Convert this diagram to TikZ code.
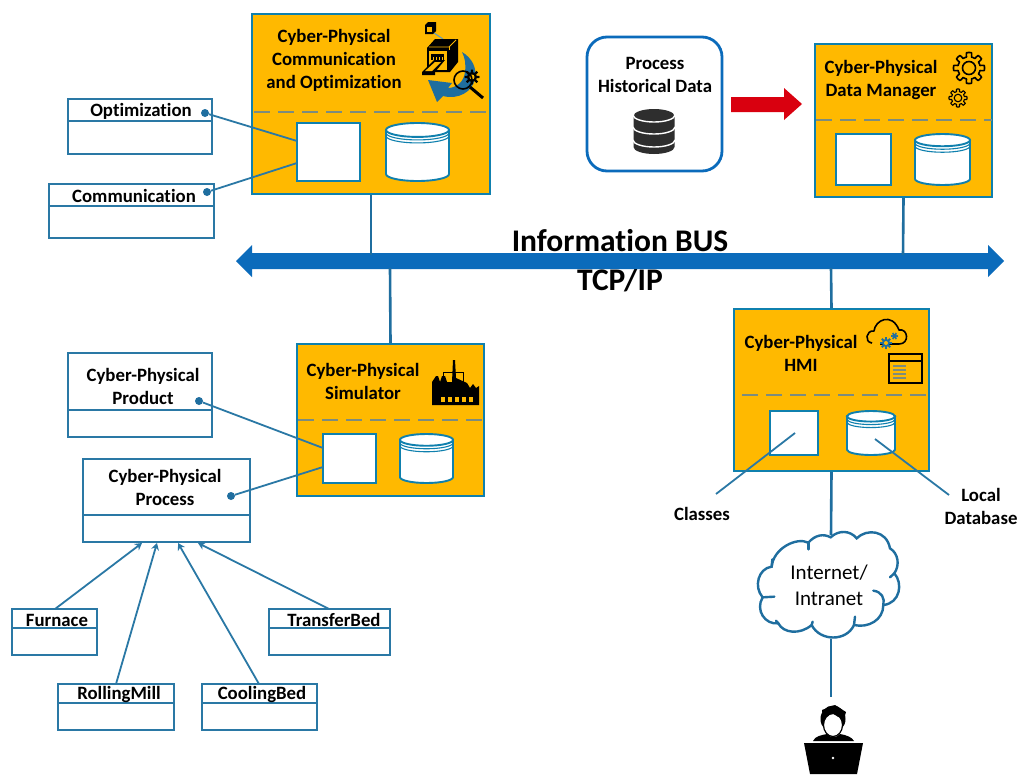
\documentclass[tikz,border=0pt]{standalone}
\usepackage{fontspec}
\setmainfont[Ligatures=NoCommon]{Carlito}
\usetikzlibrary{arrows.meta,calc}
\definecolor{cporange}{HTML}{FFB900}
\definecolor{cpedge}{HTML}{0F80AE}
\definecolor{umledge}{HTML}{2A78A5}
\definecolor{busblue}{HTML}{0B6BBB}
\definecolor{iconblue}{HTML}{1F6E9F}
\definecolor{dashc}{HTML}{7C8C7E}
\definecolor{arrowred}{HTML}{D9000F}
\tikzset{
  cpbox/.style={draw=cpedge,fill=cporange,line width=2pt,inner sep=0pt},
  inner box/.style={draw=cpedge,fill=white,line width=1.9pt,inner sep=0pt},
  umlbox/.style={draw=umledge,fill=white,line width=1.7pt,inner sep=0pt},
  sepline/.style={draw=dashc,line width=1.7pt,dash pattern=on 16pt off 8pt},
  umlline/.style={draw=umledge,line width=1.8pt},
  busline/.style={draw=iconblue,line width=2.6pt},
  txt/.style={font=\bfseries\fontsize{18.8}{23}\selectfont,align=center,inner sep=0pt,text=black},
  dotmark/.style={circle,fill=iconblue,draw=none,minimum size=8pt,inner sep=0pt},
  inherit/.style={umlline,-{Stealth[length=7pt,width=8pt]}},
}
\newcommand{\cyl}[5]{% name, cx, cy, w, h
  \node[minimum width=#4,minimum height=#5,inner sep=0pt] (#1) at (#2,#3) {};
  \begin{scope}[shift={(#2,#3)}]
    \pgfmathsetmacro{\hw}{#4/2}\pgfmathsetmacro{\hh}{#5/2}\pgfmathsetmacro{\ry}{#5*0.12}
    \draw[inner box] (-\hw,-\hh+\ry) -- (\hw,-\hh+\ry) -- (\hw,\hh-\ry) arc[start angle=0,end angle=180,x radius=\hw,y radius=\ry] -- cycle;
    \draw[inner box] (0,-\hh+\ry) ellipse[x radius=\hw,y radius=\ry];
    \draw[cpedge,line width=1.1pt] (-\hw,-\hh+\ry+3) arc[start angle=180,end angle=0,x radius=\hw,y radius=\ry];
    \draw[cpedge,line width=1.1pt] (-\hw,-\hh+\ry+6) arc[start angle=180,end angle=0,x radius=\hw,y radius=\ry];
  \end{scope}}
\newcommand{\geartwo}[6]{% cx cy r teeth color lw
  \draw[#5,line width=#6,line join=round] plot[variable=\t,samples=193,domain=0:360] ({#1+(#3*(0.86+0.14*sign(cos(#4*\t))))*cos(\t)},{#2+(#3*(0.86+0.14*sign(cos(#4*\t))))*sin(\t)}) -- cycle;
  \draw[#5,line width=#6] (#1,#2) circle[radius=#3*0.42];}
\newcommand{\gearfill}[5]{% cx cy r teeth color
  \fill[#5] plot[variable=\t,samples=129,domain=0:360] ({#1+(#3*(0.82+0.18*sign(cos(#4*\t))))*cos(\t)},{#2+(#3*(0.82+0.18*sign(cos(#4*\t))))*sin(\t)}) -- cycle;}
\begin{document}
\begin{tikzpicture}[x=1pt,y=-1pt]
\useasboundingbox (0,0) rectangle (1019,774);
\fill[white] (0,0) rectangle (1019,774);

%% bus
\node[txt,font=\bfseries\fontsize{31.5}{39}\selectfont] (bus) at (620,261) {Information BUS\\TCP/IP};
\fill[busblue] (236,261) -- (252,245) -- (252,253) -- (988,253) -- (988,245) -- (1004,261) -- (988,277) -- (988,269) -- (252,269) -- (252,277) -- cycle;

%% cyber-physical boxes
\node[cpbox,minimum width=238,minimum height=180] (comm) at (371,104) {};
\node[cpbox,minimum width=177,minimum height=153] (dm) at (903.5,120.5) {};
\node[cpbox,minimum width=187,minimum height=152] (sim) at (390.5,420) {};
\node[cpbox,minimum width=195,minimum height=162] (hmi) at (831.5,390) {};

\draw[sepline] (254,112) -- (490,112);
\draw[sepline] (816,120) -- (992,120);
\draw[sepline] (298,420) -- (484,420);
\draw[sepline] (742,395) -- (929,395);

%% bus links
\coordinate (b1) at (371,255);\coordinate (b2) at (903,255);\coordinate (b3) at (390,268);\coordinate (b4) at (831,268);
\draw[busline] (comm.south) -- (b1);
\draw[busline] (dm.south) -- (b2);
\draw[busline] (sim.north) -- (b3);
\draw[busline] (hmi.north) -- (b4);

%% inner contents
\node[inner box,minimum width=63,minimum height=58] (commcl) at (328.5,152) {};
\cyl{commdb}{417.5}{152}{63}{58}
\node[inner box,minimum width=55,minimum height=51] (dmcl) at (863.5,159.5) {};
\cyl{dmdb}{942.5}{159.5}{55}{51}
\node[inner box,minimum width=53,minimum height=49] (simcl) at (349.5,458.5) {};
\cyl{simdb}{426.5}{458.5}{53}{49}
\node[inner box,minimum width=48,minimum height=44] (hmicl) at (794,433) {};
\cyl{hmidb}{871}{433}{48}{44}

%% titles
\node[txt] (tcomm) at (334,60) {Cyber-Physical\\Communication\\and Optimization};
\node[txt] (tdm) at (881,79.5) {Cyber-Physical\\Data Manager};
\node[txt] (tsim) at (363,381.5) {Cyber-Physical\\Simulator};
\node[txt] (thmi) at (801,353.5) {Cyber-Physical\\HMI};

%% historical data
\node[draw=busblue,fill=white,line width=2.8pt,rounded corners=20pt,minimum width=135,minimum height=134,inner sep=0pt] (hist) at (654.5,104) {};
\node[txt] (thist) at (655,75) {Process\\Historical Data};
\fill[black!82] (633.5,116) -- (633.5,147) arc[start angle=180,end angle=0,x radius=20.5,y radius=7] -- (674.5,116) arc[start angle=0,end angle=180,x radius=20.5,y radius=-7] -- cycle;
\foreach \yy in {115,127,140}{
  \draw[white,line width=1.4pt] (633,\yy) arc[start angle=180,end angle=0,x radius=21,y radius=7];
}

\fill[arrowred] (731,97) -- (784,97) -- (784,88) -- (802,104) -- (784,120) -- (784,112) -- (731,112) -- cycle;

%% gears
\geartwo{969}{68}{15.5}{8}{black}{1.6pt}
\geartwo{958}{98}{9}{8}{black}{1.1pt}

%% factory
\fill[black] (432,405) -- (432,382) -- (436,376) -- (438,376) -- (440,382) -- (442,376) -- (445,376) -- (447,382) -- (452,382) -- (453,360) -- (455,360) -- (456,378) -- (467,383) -- (470,388) -- (473,384) -- (476,388) -- (479,386) -- (479,405) -- cycle;
\foreach \wx in {441,448,455,462,469}{\fill[cporange] (\wx,397) rectangle ++(4,5);}
\draw[black,line width=.7pt] (443,376) -- (443,372) -- (463,372) -- (463,384);

%% communication icon
\fill[black] (425,25) -- (428,22) -- (436,22) -- (436,31) -- (433,34) -- (425,34) -- cycle;
\fill[cporange] (427,27) rectangle (432,32);
\draw[iconblue!70,line width=1pt] (434,33) -- (443,39);
\fill[iconblue] (462,52) .. controls (472,58) and (477,68) .. (475,78) .. controls (473,92) and (458,100) .. (443,96) -- (437,102) -- (428,80) -- (452,83) -- (448,88) .. controls (456,88) and (464,82) .. (465,72) .. controls (466,64) and (465,58) .. (462,52) -- cycle;
\fill[black] (427,48) -- (435,39) -- (458,39) -- (458,62) -- (450,72) -- (427,72) -- cycle;
\draw[cporange,line width=.9pt] (429,47) -- (449,47) -- (456,40);
\draw[cporange,line width=.9pt] (449,47) -- (449,50);
\fill[cporange] (429,51) rectangle (447,70);
\fill[black] (431,54) rectangle (444,60);
\foreach \cx in {433,436,439,442}{\draw[cporange,line width=.6pt] (\cx,57) -- (\cx,60);}
\fill[black] (422,72) -- (434,60) -- (445,60) -- (435,72) -- (435,75) -- (422,75) -- cycle;
\fill[cporange] (425,71) -- (435,62) -- (441,62) -- (432,71) -- cycle;
\gearfill{472}{77}{7.5}{8}{black}
\fill[cporange] (472,77) circle[radius=2.5];
\draw[black,line width=1.6pt] (463,80) circle[radius=9];
\draw[black,line width=3pt] (470,87) -- (483,98);

%% HMI icon
\draw[black,line width=1.6pt,line join=round] (872,343) .. controls (864,342) and (866,330) .. (874,331) .. controls (875,320) and (892,312) .. (899,330) .. controls (908,328) and (910,344) .. (899,344) -- (880,344);
\gearfill{886}{343}{6}{8}{iconblue}
\fill[cporange] (886,343) circle[radius=2];
\gearfill{894.5}{336}{3.5}{6}{iconblue}
\draw[black,line width=2.3pt] (889,354) rectangle (922,383);
\draw[black,line width=1.8pt] (889,361) -- (922,361);
\foreach \yy in {366,370,374,378}{\draw[dashc,line width=1.2pt] (893,\yy) -- (906,\yy);}

%% UML classes
\node[umlbox,minimum width=144,minimum height=55] (opt) at (140,126.5) {};
\draw[umlline] (opt.west |- 0,121) -- (opt.east |- 0,121);
\node[txt,anchor=center] (topt) at (141,111) {Optimization};
\node[umlbox,minimum width=165,minimum height=54] (cmc) at (131.5,211) {};
\draw[umlline] (cmc.west |- 0,206) -- (cmc.east |- 0,206);
\node[txt] (tcmc) at (134,196) {Communication};
\node[umlbox,minimum width=144,minimum height=84] (prod) at (140,395) {};
\draw[umlline] (prod.west |- 0,410) -- (prod.east |- 0,410);
\node[txt] (tprod) at (143,386) {Cyber-Physical\\Product};
\node[umlbox,minimum width=167,minimum height=83] (proc) at (166.5,500.5) {};
\draw[umlline] (proc.west |- 0,515) -- (proc.east |- 0,515);
\node[txt] (tproc) at (165,487) {Cyber-Physical\\Process};
\node[umlbox,minimum width=85,minimum height=46] (furn) at (54.5,632) {};
\draw[umlline] (furn.west |- 0,628) -- (furn.east |- 0,628);
\node[txt] (tfurn) at (57,620) {Furnace};
\node[umlbox,minimum width=121,minimum height=46] (trans) at (329.5,632) {};
\draw[umlline] (trans.west |- 0,628) -- (trans.east |- 0,628);
\node[txt] (ttrans) at (334,620) {TransferBed};
\node[umlbox,minimum width=116,minimum height=46] (roll) at (116,707) {};
\draw[umlline] (roll.west |- 0,703) -- (roll.east |- 0,703);
\node[txt] (troll) at (119,694) {RollingMill};
\node[umlbox,minimum width=115,minimum height=46] (cool) at (259.5,707) {};
\draw[umlline] (cool.west |- 0,703) -- (cool.east |- 0,703);
\node[txt] (tcool) at (262,694) {CoolingBed};

%% class links
\node[dotmark] (d1) at (205,113) {};
\node[dotmark] (d2) at (207,192) {};
\node[dotmark] (d3) at (199,401) {};
\node[dotmark] (d4) at (231,496) {};
\coordinate (e1) at (297,141);\coordinate (e2) at (297,163);\coordinate (e3) at (323,448);\coordinate (e4) at (323,467);
\draw[umlline] (d1) -- (e1);
\draw[umlline] (d2) -- (e2);
\draw[umlline] (d3) -- (e3);
\draw[umlline] (d4) -- (e4);

%% inheritance
\coordinate (a1) at (142,543);\coordinate (a2) at (157,543);\coordinate (a3) at (178,543);\coordinate (a4) at (198,543);
\draw[inherit] (55,609) -- (a1);
\draw[inherit] (116,684) -- (a2);
\draw[inherit] (259,684) -- (a3);
\draw[inherit] (329,609) -- (a4);

%% HMI callouts
\node[txt] (tcl) at (702,514) {Classes};
\node[txt] (tld) at (981,506) {Local\\Database};
\coordinate (c1) at (795,433);\coordinate (c2) at (875,439);\coordinate (c3) at (716,494);\coordinate (c4) at (949,495);
\draw[umlline] (c1) -- (c3);
\draw[umlline] (c2) -- (c4);

%% cloud
\begin{scope}[shift={(740,520)},x=0.3333pt,y=-0.3333pt,busline,line width=2.4pt,line cap=round]
\draw[fill=white] (272,52) .. controls (295,30) and (330,30) .. (350,55)
  .. controls (380,25) and (440,30) .. (450,85)
  .. controls (475,100) and (480,135) .. (463,160)
  .. controls (490,190) and (480,250) .. (430,255)
  .. controls (430,300) and (385,325) .. (342,315)
  .. controls (320,365) and (240,365) .. (215,315)
  .. controls (180,345) and (130,340) .. (115,310)
  .. controls (75,315) and (45,270) .. (68,232)
  .. controls (40,200) and (55,145) .. (95,140)
  .. controls (100,85) and (170,50) .. (205,68)
  .. controls (225,45) and (250,40) .. (272,52) -- cycle;
\draw (400,212) .. controls (425,215) and (435,235) .. (430,255);
\draw (103,230) -- (68,232);
\draw (95,140) -- (97,118);
\draw (463,160) -- (450,172);
\draw (205,68) -- (205,88);
\draw (342,315) -- (345,290);
\draw (215,315) -- (218,305);
\draw (115,310) -- (108,302);
\end{scope}
\node[font=\fontsize{21}{26}\selectfont,align=center,inner sep=0pt] (tnet) at (829,585) {Internet/\\Intranet};
\coordinate (cloudtop) at (831,535);\coordinate (cloudbot) at (831,639);\coordinate (usertop) at (831,697);
\draw[busline] (hmi.south) -- (cloudtop);
\draw[busline] (cloudbot) -- (usertop);

%% user
\fill[black] (833,719) ellipse[x radius=12.5,y radius=13.5];
\fill[white] (833,725) ellipse[x radius=9.5,y radius=11.5];
\fill[black] (823,719) .. controls (828,717) and (830,714) .. (832,712) .. controls (835,716) and (840,718) .. (844,719) -- (846,712) -- (835,705) -- (822,710) -- cycle;
\draw[black,line width=1.2pt] (833,725) ellipse[x radius=9.5,y radius=11.5];
\fill[black] (813,741) .. controls (815,736) and (822,735) .. (827,734) .. controls (830,738) and (837,738) .. (840,734) .. controls (846,735) and (852,737) .. (854,741) -- cycle;
\fill[black] (804,743) -- (863,743) -- (857,774) -- (810,774) -- cycle;
\fill[white] (833,758) circle[radius=1.4];
\end{tikzpicture}
\end{document}
